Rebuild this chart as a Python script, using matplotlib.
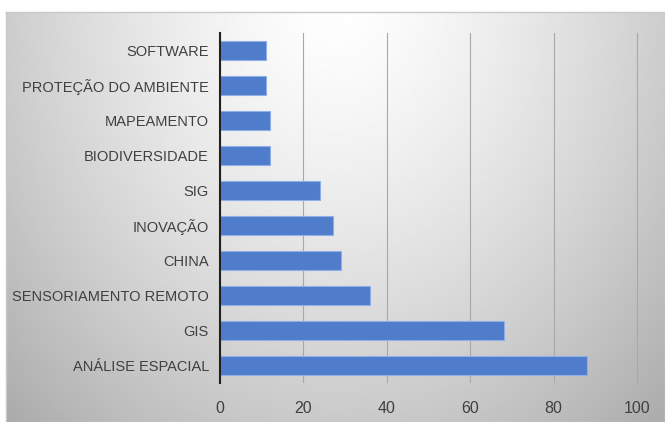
import matplotlib
matplotlib.use("Agg")
import matplotlib.pyplot as plt
import numpy as np

categories = ["ANÁLISE ESPACIAL", "GIS", "SENSORIAMENTO REMOTO", "CHINA", "INOVAÇÃO",
              "SIG", "BIODIVERSIDADE", "MAPEAMENTO", "PROTEÇÃO DO AMBIENTE", "SOFTWARE"]
values = [88, 68, 36, 29, 27, 24, 12, 12, 11, 11]
xticks = [0, 20, 40, 60, 80, 100]

plt.rcParams['font.family'] = ['Liberation Sans', 'DejaVu Sans']

W, H = 665, 422
fig = plt.figure(figsize=(W / 100, H / 100), dpi=100)

# radial gray background like the screenshot frame
bg = fig.add_axes([6 / W, 0, 1 - 6 / W, 1 - 12 / H])
yy, xx = np.mgrid[0:200, 0:330]
cx, cy = 165, -10
d = np.sqrt(((xx - cx) / 190.0) ** 2 + ((yy - cy) / 230.0) ** 2)
shade = 1.0 - 0.24 * np.clip(d, 0, 1.3) ** 1.4
bg.imshow(shade, cmap="gray", vmin=0, vmax=1, aspect="auto", interpolation="bilinear")
bg.set_xticks([])
bg.set_yticks([])
for s in bg.spines.values():
    s.set_color("#c8c8c8")
    s.set_linewidth(1.0)

ax = fig.add_axes([220 / W, 1 - 383 / H, (639 - 220) / W, (383 - 33) / H])
ax.set_facecolor("none")
y = np.arange(len(categories))
ax.barh(y, values, height=0.57, color="#4f7ccb", edgecolor="#8fb0e6", linewidth=0.8, zorder=3)
ax.set_yticks(y)
ax.set_yticklabels(categories)
ax.set_ylim(-0.5, len(categories) - 0.5)
ax.set_xlim(0, 100.5)
ax.set_xticks(xticks)
ax.xaxis.grid(True, color="#a8a8a8", linewidth=0.8, zorder=0)
ax.tick_params(length=0, labelsize=10.5, colors="#404040", pad=8)
ax.tick_params(axis="x", pad=13, labelsize=11.5)
for s in ["top", "right", "bottom"]:
    ax.spines[s].set_visible(False)
ax.spines["left"].set_color("#202020")
ax.spines["left"].set_linewidth(1.5)
ax.spines["left"].set_zorder(4)

fig.savefig("out.png", dpi=100)
